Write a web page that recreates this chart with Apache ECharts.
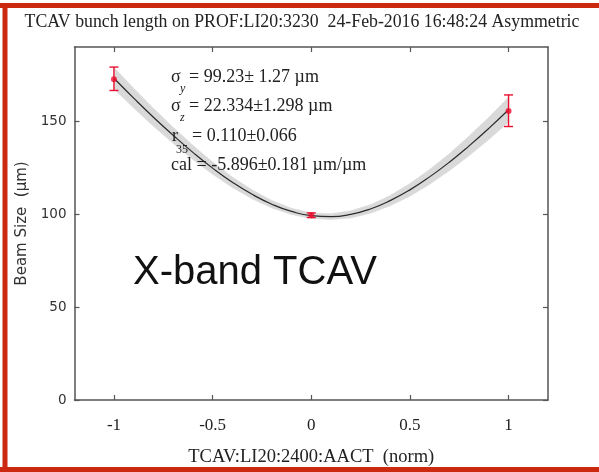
<!DOCTYPE html>
<html>
<head>
<meta charset="utf-8">
<script src="https://cdn.jsdelivr.net/npm/echarts@6/dist/echarts.min.js"></script>
<style>
html,body{margin:0;padding:0;background:#fff;}
#chart{width:599px;height:472px;}
</style>
</head>
<body>
<div id="chart"></div>
<script>
// ---- data ----
const titleText = 'TCAV bunch length on PROF:LI20:3230  24-Feb-2016 16:48:24 Asymmetric';
const xTicks = [-1, -0.5, 0, 0.5, 1];
const yTicks = [0, 50, 100, 150];
const xName = 'TCAV:LI20:2400:AACT  (norm)';
const yName = 'Beam Size  (\u00b5m)';

// measured points with error bars
const ptX = [-1, 0, 1];
const ptY = [172.6, 99.4, 155.6];
const ptLo = [166.6, 98.2, 147.2];
const ptHi = [179.2, 100.7, 164.2];

// fitted curve
const fitX = [-1, -0.9, -0.8, -0.7, -0.6, -0.5, -0.4, -0.3, -0.2, -0.1, 0, 0.1, 0.2, 0.3, 0.4, 0.5, 0.6, 0.7, 0.8, 0.9, 1];
const fitY = [173.2, 162.5, 152.2, 142.5, 133.3, 124.8, 117.2, 110.7, 105.4, 101.5, 99.2, 98.7, 99.9, 102.8, 107.3, 113.1, 120.1, 128.0, 136.8, 146.2, 156.2];
// half-width of grey confidence band
const bandHalf = [5.8, 5.3, 4.8, 4.3, 3.8, 3.3, 2.8, 2.4, 2.0, 1.7, 1.5, 1.6, 1.9, 2.3, 2.8, 3.4, 4.0, 4.6, 5.3, 6.0, 6.7];

// annotation texts
const annSig = '\u03c3';
const annL1 = '= 99.23\u00b1 1.27 \u00b5m';
const annL2 = '= 22.334\u00b11.298 \u00b5m';
const annL3 = '= 0.110\u00b10.066';
const annL4 = 'cal = -5.896\u00b10.181 \u00b5m/\u00b5m';
const bigLabel = 'X-band TCAV';

// ---- build ----
const serif = '"Liberation Serif", "DejaVu Serif", serif';
const sans = '"DejaVu Sans", sans-serif';
const red = '#e8102e';
const axisCol = '#555';

const bandData = fitX.map((x, i) => [x, fitY[i] - bandHalf[i], fitY[i] + bandHalf[i]]);
const fitData = fitX.map((x, i) => [x, fitY[i]]);
const errData = ptX.map((x, i) => [x, ptY[i], ptLo[i], ptHi[i]]);
const ptData = ptX.map((x, i) => [x, ptY[i]]);

const chart = echarts.init(document.getElementById('chart'), null, {renderer: 'canvas'});

function txt(text, x, y, font, extra) {
  return {type: 'text', z: 100, style: Object.assign({text: text, x: x, y: y, font: font, fill: '#222', align: 'left', verticalAlign: 'middle'}, extra || {})};
}
const annFont = '18px ' + serif;
const subFont = '12px ' + serif;

const option = {
  backgroundColor: '#fff',
  animation: false,
  grid: {left: 74.5, right: 51, top: 47, bottom: 63, show: false},
  xAxis: [{
    type: 'value', min: -1.2, max: 1.2, position: 'bottom',
    name: xName, nameLocation: 'middle', nameGap: 48,
    nameTextStyle: {fontFamily: serif, fontSize: 18.5, color: '#222'},
    axisLine: {show: true, onZero: false, lineStyle: {color: axisCol, width: 1.5}},
    axisTick: {show: true, inside: true, length: 5, customValues: xTicks, lineStyle: {color: axisCol, width: 1.2}},
    axisLabel: {show: true, customValues: xTicks, margin: 17, fontFamily: serif, fontSize: 17, color: '#222',
      formatter: v => String(v)},
    splitLine: {show: false}
  }, {
    type: 'value', min: -1.2, max: 1.2, position: 'top',
    axisLine: {show: true, onZero: false, lineStyle: {color: axisCol, width: 1.5}},
    axisTick: {show: true, inside: true, length: 5, customValues: xTicks, lineStyle: {color: axisCol, width: 1.2}},
    axisLabel: {show: false},
    splitLine: {show: false}
  }],
  yAxis: [{
    type: 'value', min: 0, max: 190, position: 'left',
    name: yName, nameLocation: 'middle', nameGap: 44, nameRotate: 90,
    nameTextStyle: {fontFamily: sans, fontSize: 15, color: '#333'},
    axisLine: {show: true, onZero: false, lineStyle: {color: axisCol, width: 1.5}},
    axisTick: {show: true, inside: true, length: 5, customValues: yTicks, lineStyle: {color: axisCol, width: 1.2}},
    axisLabel: {show: true, customValues: yTicks, margin: 8, fontFamily: sans, fontSize: 13.5, color: '#333'},
    splitLine: {show: false}
  }, {
    type: 'value', min: 0, max: 190, position: 'right',
    axisLine: {show: true, onZero: false, lineStyle: {color: axisCol, width: 1.5}},
    axisTick: {show: true, inside: true, length: 5, customValues: yTicks, lineStyle: {color: axisCol, width: 1.2}},
    axisLabel: {show: false},
    splitLine: {show: false}
  }],
  series: [
    {
      type: 'custom', name: 'band', data: bandData, z: 1, silent: true,
      renderItem: function (params, api) {
        if (params.dataIndex !== 0) return null;
        const upper = [], lower = [];
        for (let i = 0; i < bandData.length; i++) {
          upper.push(api.coord([bandData[i][0], bandData[i][2]]));
          lower.push(api.coord([bandData[i][0], bandData[i][1]]));
        }
        const pts = upper.concat(lower.reverse());
        return {type: 'polygon', shape: {points: pts}, style: {fill: '#d9d9d9', stroke: '#d9d9d9', lineWidth: 0.5}};
      }
    },
    {
      type: 'line', name: 'fit', data: fitData, symbol: 'none', smooth: true,
      lineStyle: {color: '#2a2a2a', width: 1.2}, z: 3
    },
    {
      type: 'custom', name: 'err', data: errData, z: 5,
      renderItem: function (params, api) {
        const x = api.value(0);
        const top = api.coord([x, api.value(3)]);
        const bot = api.coord([x, api.value(2)]);
        const h = 4.5;
        const st = {stroke: red, lineWidth: 1.4};
        return {
          type: 'group', children: [
            {type: 'line', shape: {x1: top[0], y1: top[1], x2: bot[0], y2: bot[1]}, style: st},
            {type: 'line', shape: {x1: top[0] - h, y1: top[1], x2: top[0] + h, y2: top[1]}, style: st},
            {type: 'line', shape: {x1: bot[0] - h, y1: bot[1], x2: bot[0] + h, y2: bot[1]}, style: st}
          ]
        };
      }
    },
    {
      type: 'scatter', name: 'pts', data: ptData, symbol: 'circle', symbolSize: 6,
      itemStyle: {color: red}, z: 6
    }
  ],
  graphic: [
    // red frame
    {type: 'rect', shape: {x: 0, y: 3, width: 599, height: 5}, style: {fill: '#cc2a10'}, z: 200},
    {type: 'rect', shape: {x: 2.5, y: 3, width: 5, height: 469}, style: {fill: '#cc2a10'}, z: 200},
    {type: 'rect', shape: {x: 0, y: 467, width: 599, height: 5}, style: {fill: '#cc2a10'}, z: 200},
    // title
    txt(titleText, 302, 22, '17.8px ' + serif, {align: 'center'}),
    // annotations
    txt(annSig, 171, 77, annFont), txt('y', 180, 89, 'italic ' + subFont), txt(annL1, 189, 77, annFont),
    txt(annSig, 171, 106, annFont), txt('z', 180, 118, 'italic ' + subFont), txt(annL2, 189, 106, annFont),
    txt('r', 172, 136, annFont), txt('35', 176, 150, subFont), txt(annL3, 192, 136, annFont),
    txt(annL4, 171, 165, annFont),
    // big label
    txt(bigLabel, 133, 273, '40px "Liberation Sans", Arial, sans-serif', {fill: '#111'})
  ]
};
chart.setOption(option);
</script>
</body>
</html>
